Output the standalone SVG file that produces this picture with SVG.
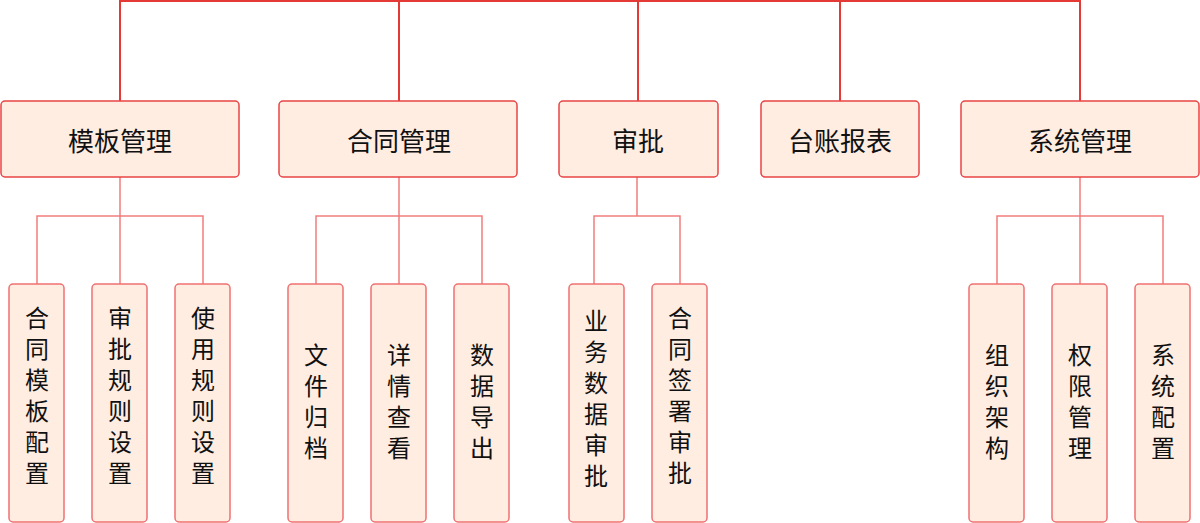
<svg xmlns="http://www.w3.org/2000/svg" width="1200" height="523" viewBox="0 0 1200 523">
<style>
.l1 rect{fill:#ffede2;stroke:#e94444;stroke-width:1.5}
.l2 rect{fill:#ffede2;stroke:#f07070;stroke-width:1.5}
text{font-family:"Liberation Sans","Noto Sans CJK SC",sans-serif;fill:#111;font-size:24px;text-anchor:middle}
.l1 text{font-size:26px}
.top{stroke:#e53935;stroke-width:2;fill:none}
.sub{stroke:#f27c7c;stroke-width:1.5;fill:none}
</style>
<rect width="1200" height="523" fill="#fff"/>
<g id="connectors">
<path class="top" d="M120,101V1H1080V101M399,1V101M638,1V101M840,1V101"/>
<path class="sub" d="M120,177V284M37,284V216H203V284"/>
<path class="sub" d="M399,177V284M316,284V216H482V284"/>
<path class="sub" d="M637,177V216M594,284V216H680V284"/>
<path class="sub" d="M1080,177V284M997,284V216H1163V284"/>
</g>
<g id="n-mb" class="l1"><rect x="1" y="101" width="238" height="76" rx="4"/><text x="120" y="151">模板管理</text></g>
<g id="n-ht" class="l1"><rect x="279" y="101" width="238" height="76" rx="4"/><text x="399" y="151">合同管理</text></g>
<g id="n-sp" class="l1"><rect x="559" y="101" width="159" height="76" rx="4"/><text x="638" y="151">审批</text></g>
<g id="n-tz" class="l1"><rect x="761" y="101" width="158" height="76" rx="4"/><text x="840" y="151">台账报表</text></g>
<g id="n-xt" class="l1"><rect x="961" y="101" width="238" height="76" rx="4"/><text x="1080" y="151">系统管理</text></g>

<g id="c1" class="l2"><rect x="9" y="284" width="55" height="238" rx="4"/><text x="37" y="327">合</text><text x="37" y="358">同</text><text x="37" y="389">模</text><text x="37" y="420">板</text><text x="37" y="451">配</text><text x="37" y="482">置</text></g>
<g id="c2" class="l2"><rect x="92" y="284" width="55" height="238" rx="4"/><text x="120" y="327">审</text><text x="120" y="358">批</text><text x="120" y="389">规</text><text x="120" y="420">则</text><text x="120" y="451">设</text><text x="120" y="482">置</text></g>
<g id="c3" class="l2"><rect x="175" y="284" width="55" height="238" rx="4"/><text x="203" y="327">使</text><text x="203" y="358">用</text><text x="203" y="389">规</text><text x="203" y="420">则</text><text x="203" y="451">设</text><text x="203" y="482">置</text></g>

<g id="c4" class="l2"><rect x="288" y="284" width="55" height="238" rx="4"/><text x="316" y="364">文</text><text x="316" y="395">件</text><text x="316" y="426">归</text><text x="316" y="457">档</text></g>
<g id="c5" class="l2"><rect x="371" y="284" width="55" height="238" rx="4"/><text x="399" y="364">详</text><text x="399" y="395">情</text><text x="399" y="426">查</text><text x="399" y="457">看</text></g>
<g id="c6" class="l2"><rect x="454" y="284" width="55" height="238" rx="4"/><text x="482" y="364">数</text><text x="482" y="395">据</text><text x="482" y="426">导</text><text x="482" y="457">出</text></g>

<g id="c7" class="l2"><rect x="569" y="284" width="55" height="238" rx="4"/><text x="596" y="330">业</text><text x="596" y="361">务</text><text x="596" y="392">数</text><text x="596" y="423">据</text><text x="596" y="454">审</text><text x="596" y="485">批</text></g>
<g id="c8" class="l2"><rect x="652" y="284" width="55" height="238" rx="4"/><text x="680" y="327">合</text><text x="680" y="358">同</text><text x="680" y="389">签</text><text x="680" y="420">署</text><text x="680" y="451">审</text><text x="680" y="482">批</text></g>

<g id="c9" class="l2"><rect x="969" y="284" width="55" height="238" rx="4"/><text x="997" y="364">组</text><text x="997" y="395">织</text><text x="997" y="426">架</text><text x="997" y="457">构</text></g>
<g id="c10" class="l2"><rect x="1052" y="284" width="55" height="238" rx="4"/><text x="1080" y="364">权</text><text x="1080" y="395">限</text><text x="1080" y="426">管</text><text x="1080" y="457">理</text></g>
<g id="c11" class="l2"><rect x="1135" y="284" width="55" height="238" rx="4"/><text x="1163" y="364">系</text><text x="1163" y="395">统</text><text x="1163" y="426">配</text><text x="1163" y="457">置</text></g>
</svg>
